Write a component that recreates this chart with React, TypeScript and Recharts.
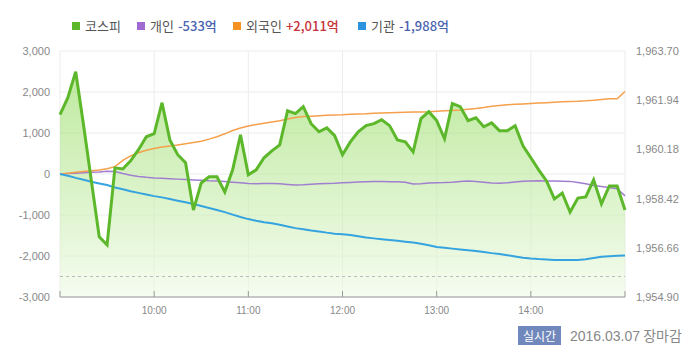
import { Area, CartesianGrid, ComposedChart, Line, ReferenceLine, XAxis, YAxis } from "recharts";

// 5분 간격 시각 (09:00 ~ 15:00)
const times = Array.from({ length: 73 }, (_, i) => {
  const m = 540 + i * 5;
  return `${String(Math.floor(m / 60)).padStart(2, "0")}:${String(m % 60).padStart(2, "0")}`;
});

const kospi = [
  1961.42, 1962.03, 1962.96, 1961.05, 1959.05, 1957.05, 1956.76, 1959.52, 1959.48, 1959.77,
  1960.17, 1960.63, 1960.74, 1961.85, 1960.52, 1959.99, 1959.7, 1958.01, 1958.98, 1959.2,
  1959.2, 1958.66, 1959.45, 1960.7, 1959.27, 1959.45, 1959.88, 1960.13, 1960.34, 1961.56,
  1961.46, 1961.71, 1961.1, 1960.81, 1960.95, 1960.67, 1959.99, 1960.45, 1960.81, 1961.03,
  1961.1, 1961.24, 1961.03, 1960.52, 1960.45, 1960.09, 1961.28, 1961.53, 1961.21, 1960.56,
  1961.82, 1961.71, 1961.21, 1961.31, 1960.99, 1961.13, 1960.85, 1960.85, 1961.03, 1960.31,
  1959.88, 1959.45, 1959.05, 1958.41, 1958.62, 1957.94, 1958.44, 1958.48, 1959.09, 1958.23,
  1958.87, 1958.87, 1958.01,
];

const individual = [
  0, 10, 20, 30, 40, 50, 65, 60, 10, -30,
  -60, -80, -95, -105, -115, -125, -135, -145, -155, -165,
  -170, -185, -200, -215, -230, -235, -230, -230, -240, -255,
  -270, -265, -250, -235, -230, -225, -215, -205, -195, -190,
  -185, -185, -190, -190, -200, -245, -240, -220, -215, -210,
  -200, -180, -170, -180, -200, -220, -225, -215, -195, -175,
  -170, -165, -170, -170, -175, -180, -210, -240, -280, -305,
  -330, -360, -533,
];

const foreign = [
  0, 20, 40, 60, 80, 100, 130, 180, 330, 440,
  520, 580, 620, 660, 680, 710, 740, 770, 800, 850,
  910, 980, 1060, 1120, 1170, 1210, 1240, 1270, 1300, 1340,
  1380, 1400, 1410, 1420, 1430, 1440, 1445, 1455, 1465, 1470,
  1480, 1490, 1495, 1500, 1505, 1510, 1515, 1520, 1530, 1540,
  1550, 1560, 1580, 1595, 1620, 1650, 1670, 1690, 1700, 1710,
  1720, 1730, 1740, 1750, 1760, 1770, 1775, 1785, 1800, 1820,
  1835, 1835, 2011,
];

const institution = [
  0, -45, -95, -140, -190, -230, -270, -330, -370, -420,
  -460, -500, -540, -570, -610, -650, -690, -730, -780, -830,
  -880, -930, -990, -1050, -1100, -1140, -1175, -1200, -1240, -1280,
  -1320, -1350, -1380, -1400, -1430, -1455, -1470, -1490, -1520, -1550,
  -1570, -1590, -1610, -1630, -1650, -1670, -1700, -1740, -1780, -1800,
  -1820, -1840, -1860, -1880, -1900, -1930, -1950, -1980, -2010, -2040,
  -2060, -2075, -2085, -2095, -2100, -2100, -2095, -2080, -2050, -2020,
  -2005, -1995, -1988,
];

const hourTicks = ["09:00", "10:00", "11:00", "12:00", "13:00", "14:00", "15:00"];
const leftTicks = [-3000, -2000, -1000, 0, 1000, 2000, 3000];
const rightTicks = [1954.9, 1956.66, 1958.42, 1960.18, 1961.94, 1963.7];

const toMin = (s: string) => {
  const [h, m] = s.split(":").map(Number);
  return h * 60 + m;
};

const data = times.map((t, i) => ({
  t: toMin(t),
  kospi: kospi[i],
  individual: individual[i],
  foreign: foreign[i],
  institution: institution[i],
}));

const legend = [
  { name: "코스피", color: "#5cb82a", left: 72 },
  { name: "개인", color: "#a06ad0", value: "-533억", valueColor: "#4a63b0", left: 137 },
  { name: "외국인", color: "#f59122", value: "+2,011억", valueColor: "#c8323a", left: 233 },
  { name: "기관", color: "#2a94e0", value: "-1,988억", valueColor: "#4a63b0", left: 358 },
];

const axisFont = { fontSize: 11, fill: "#888", fontFamily: "'Liberation Sans', Arial, sans-serif" };

export default function App() {
  return (
    <div
      style={{
        position: "absolute",
        left: 0,
        top: 0,
        width: 700,
        height: 361,
        background: "#fff",
        fontFamily: "'Noto Sans CJK KR', sans-serif",
      }}
    >
      {legend.map((item) => (
        <div
          key={item.name}
          style={{
            position: "absolute",
            left: item.left,
            top: 15,
            display: "flex",
            alignItems: "center",
            fontSize: 13,
            lineHeight: "22px",
            color: "#555",
            whiteSpace: "nowrap",
          }}
        >
          <span style={{ width: 8, height: 8, background: item.color, marginRight: 5 }} />
          <span>{item.name}</span>
          {item.value && (
            <span style={{ color: item.valueColor, marginLeft: 4, fontWeight: 500 }}>{item.value}</span>
          )}
        </div>
      ))}

      <ComposedChart width={700} height={361} data={data} margin={{ top: 51, right: 0, bottom: 34, left: 0 }}>
        <defs>
          <linearGradient id="kospiFill" x1="0" y1="0" x2="0" y2="1">
            <stop offset="0%" stopColor="#8ed957" stopOpacity={0.95} />
            <stop offset="100%" stopColor="#eefae6" stopOpacity={1} />
          </linearGradient>
        </defs>
        <CartesianGrid yAxisId="left" stroke="#ececec" />
        <XAxis
          dataKey="t"
          type="number"
          domain={[540, 900]}
          ticks={hourTicks.map(toMin)}
          tickFormatter={(v: number) =>
            v === 540 || v === 900 ? "" : `${Math.floor(v / 60)}:${String(v % 60).padStart(2, "0")}`
          }
          height={30}
          tickSize={-6}
          tickMargin={16}
          axisLine={{ stroke: "#999" }}
          tickLine={{ stroke: "#999" }}
          tick={{ ...axisFont, fontSize: 10 }}
        />
        <YAxis
          yAxisId="left"
          domain={[-3000, 3000]}
          ticks={leftTicks}
          width={60}
          axisLine={false}
          tickLine={false}
          tickMargin={4}
          tick={axisFont}
          tickFormatter={(v: number) => v.toLocaleString("en-US")}
        />
        <YAxis
          yAxisId="right"
          orientation="right"
          domain={[1954.9, 1963.7]}
          ticks={rightTicks}
          width={75}
          axisLine={false}
          tickLine={false}
          tickMargin={5}
          tick={axisFont}
          tickFormatter={(v: number) =>
            v.toLocaleString("en-US", { minimumFractionDigits: 2, maximumFractionDigits: 2 })
          }
        />
        <ReferenceLine yAxisId="left" y={-2500} stroke="#bbb" strokeDasharray="3 3" />
        <Area
          yAxisId="right"
          dataKey="kospi"
          type="linear"
          stroke="none"
          fill="url(#kospiFill)"
          baseValue="dataMin"
          isAnimationActive={false}
        />
        <Line yAxisId="left" dataKey="individual" stroke="#a07ed0" strokeWidth={1.5} dot={false} isAnimationActive={false} />
        <Line yAxisId="left" dataKey="foreign" stroke="#f4a04c" strokeWidth={1.5} dot={false} isAnimationActive={false} />
        <Line yAxisId="left" dataKey="institution" stroke="#35a3e0" strokeWidth={2} dot={false} isAnimationActive={false} />
        <Line yAxisId="right" dataKey="kospi" type="linear" stroke="#5cb82a" strokeWidth={3} dot={false} isAnimationActive={false} />
      </ComposedChart>

      <div
        style={{
          position: "absolute",
          left: 518,
          top: 326,
          width: 43,
          height: 19,
          background: "#7088bb",
          color: "#fff",
          fontSize: 12,
          lineHeight: "19px",
          textAlign: "center",
        }}
      >
        실시간
      </div>
      <div style={{ position: "absolute", left: 570, top: 325, fontSize: 14, lineHeight: "21px", color: "#888" }}>
        <span style={{ fontFamily: "'Liberation Sans', Arial, sans-serif" }}>2016.03.07</span> 장마감
      </div>
    </div>
  );
}
